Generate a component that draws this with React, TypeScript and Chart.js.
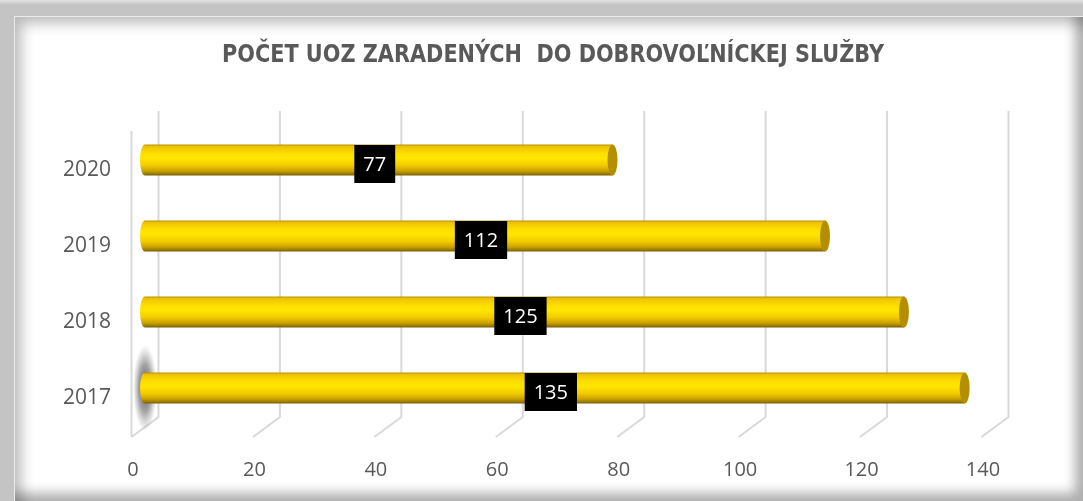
import React, { useEffect, useRef } from "react";
import { Chart, registerables } from "chart.js";

Chart.register(...registerables);

const TITLE = "POČET UOZ ZARADENÝCH  DO DOBROVOĽNÍCKEJ SLUŽBY";
const categories = ["2020", "2019", "2018", "2017"];
const values = [77, 112, 125, 135];
const xTicks = [0, 20, 40, 60, 80, 100, 120, 140];

const TEXT_GRAY = "#595959";
const GRID_GRAY = "#d9d9d9";
const FONT = '"Open Sans", "Noto Sans", sans-serif';
const TITLE_FONT = '"DejaVu Sans Condensed", "DejaVu Sans", sans-serif';

const wallPlugin = {
  id: "wall3d",
  beforeDatasetsDraw(chart: any) {
    const { ctx, chartArea: a } = chart;
    const xs = chart.scales.x;
    const half = 13.5;
    const backTop = a.top - 11;
    const backBottom = a.bottom - 9;
    const frontBottom = backBottom + 20;
    ctx.save();
    ctx.strokeStyle = GRID_GRAY;
    ctx.lineWidth = 2;
    xTicks.forEach((v) => {
      const px = xs.getPixelForValue(v);
      ctx.beginPath();
      ctx.moveTo(px + half, backTop);
      ctx.lineTo(px + half, backBottom);
      ctx.lineTo(px - half, frontBottom);
      ctx.stroke();
    });
    const p0 = xs.getPixelForValue(0);
    ctx.beginPath();
    ctx.moveTo(p0 - half, backTop + 20);
    ctx.lineTo(p0 - half, frontBottom);
    ctx.stroke();
    const meta = chart.getDatasetMeta(0);
    const last = meta.data[meta.data.length - 1];
    if (last) {
      ctx.save();
      ctx.translate(p0, last.y);
      ctx.scale(1, 3.6);
      const g = ctx.createRadialGradient(0, 0, 0, 0, 0, 12);
      g.addColorStop(0, "rgba(60,60,60,0.9)");
      g.addColorStop(0.55, "rgba(90,90,90,0.55)");
      g.addColorStop(1, "rgba(130,130,130,0)");
      ctx.fillStyle = g;
      ctx.beginPath();
      ctx.arc(0, 0, 12, 0, Math.PI * 2);
      ctx.fill();
      ctx.restore();
    }
    ctx.restore();
  },
  afterDatasetsDraw(chart: any) {
    const { ctx } = chart;
    const meta = chart.getDatasetMeta(0);
    ctx.save();
    meta.data.forEach((el: any, i: number) => {
      const { x, y, base, height } = el.getProps(["x", "y", "base", "height"], true);
      const h = height;
      const top = y - h / 2;
      const bot = y + h / 2;
      const rx = 5;
      const g = ctx.createLinearGradient(0, top, 0, bot);
      g.addColorStop(0, "#B89400");
      g.addColorStop(0.07, "#EFC400");
      g.addColorStop(0.3, "#FFDF00");
      g.addColorStop(0.45, "#FFE600");
      g.addColorStop(0.68, "#F2CA00");
      g.addColorStop(0.86, "#C9A000");
      g.addColorStop(1, "#7A6000");
      ctx.fillStyle = g;
      ctx.beginPath();
      ctx.moveTo(base, top);
      ctx.lineTo(x, top);
      ctx.lineTo(x, bot);
      ctx.lineTo(base, bot);
      ctx.ellipse(base, y, rx, h / 2, 0, Math.PI / 2, (3 * Math.PI) / 2);
      ctx.closePath();
      ctx.fill();
      ctx.fillStyle = "#B38F00";
      ctx.beginPath();
      ctx.ellipse(x, y, rx, h / 2, 0, 0, Math.PI * 2);
      ctx.fill();

      const label = String(values[i]);
      ctx.font = `20px ${FONT}`;
      const tw = ctx.measureText(label).width;
      const bw = tw + 18;
      const bh = 38;
      const cx = (base + x) / 2 - 4;
      const cy = y + 4;
      ctx.fillStyle = "#000000";
      ctx.fillRect(cx - bw / 2, cy - bh / 2, bw, bh);
      ctx.fillStyle = "#ffffff";
      ctx.textAlign = "center";
      ctx.textBaseline = "middle";
      ctx.fillText(label, cx, cy + 1);
    });
    ctx.restore();
  },
  afterDraw(chart: any) {
    const { ctx } = chart;
    ctx.save();
    ctx.font = `bold 25px ${TITLE_FONT}`;
    const tw = ctx.measureText(TITLE).width;
    const targetW = 662;
    ctx.translate(553, 55);
    ctx.scale(targetW / tw, 1);
    ctx.fillStyle = TEXT_GRAY;
    ctx.textAlign = "center";
    ctx.textBaseline = "middle";
    ctx.fillText(TITLE, 0, 0);
    ctx.restore();
  },
};

export default function App() {
  const ref = useRef<HTMLCanvasElement | null>(null);

  useEffect(() => {
    document.body.style.margin = "0";
    const canvas = ref.current;
    if (!canvas) return;
    const chart = new Chart(canvas, {
      type: "bar",
      data: {
        labels: categories,
        datasets: [
          {
            data: values,
            backgroundColor: "rgba(0,0,0,0)",
            borderWidth: 0,
            barThickness: 31,
          },
        ],
      },
      options: {
        indexAxis: "y",
        animation: false,
        responsive: false,
        maintainAspectRatio: false,
        layout: { padding: { left: 0, right: 88, top: 122, bottom: 0 } },
        plugins: {
          legend: { display: false },
          tooltip: { enabled: false },
          title: { display: false },
        },
        scales: {
          x: {
            type: "linear",
            min: 0,
            max: 140,
            grid: { display: false },
            border: { display: false },
            afterFit: (s: any) => {
              s.height = 75;
            },
            afterBuildTicks: (s: any) => {
              s.ticks = xTicks.map((v) => ({ value: v }));
            },
            ticks: {
              color: TEXT_GRAY,
              font: { family: FONT, size: 20 },
              padding: 24,
              labelOffset: -12,
            },
          },
          y: {
            grid: { display: false },
            border: { display: false },
            afterFit: (s: any) => {
              s.width = 145;
            },
            ticks: {
              color: TEXT_GRAY,
              font: { family: FONT, size: 21 },
              padding: 26,
              labelOffset: 10,
            },
          },
        },
      },
      plugins: [wallPlugin],
    } as any);
    return () => chart.destroy();
  }, []);

  return (
    <div style={{ position: "fixed", left: 0, top: 0, width: 1083, height: 501, background: "linear-gradient(#e2e2e2 0px, #c4c4c4 5px, #c4c4c4 100%)", overflow: "hidden" }}>
      <div
        style={{
          position: "absolute",
          left: 14,
          top: 16,
          right: 0,
          bottom: 0,
          background: "#ffffff",
          borderLeft: "1px solid #ececec",
          borderTop: "1px solid #ececec",
          boxShadow: "inset 10px 10px 14px -4px rgba(0,0,0,0.28), inset -14px -14px 12px -6px rgba(0,0,0,0.32)",
        }}
      />
      <canvas ref={ref} width={1083} height={501} style={{ position: "absolute", left: 0, top: 0, width: 1083, height: 501 }} />
    </div>
  );
}
